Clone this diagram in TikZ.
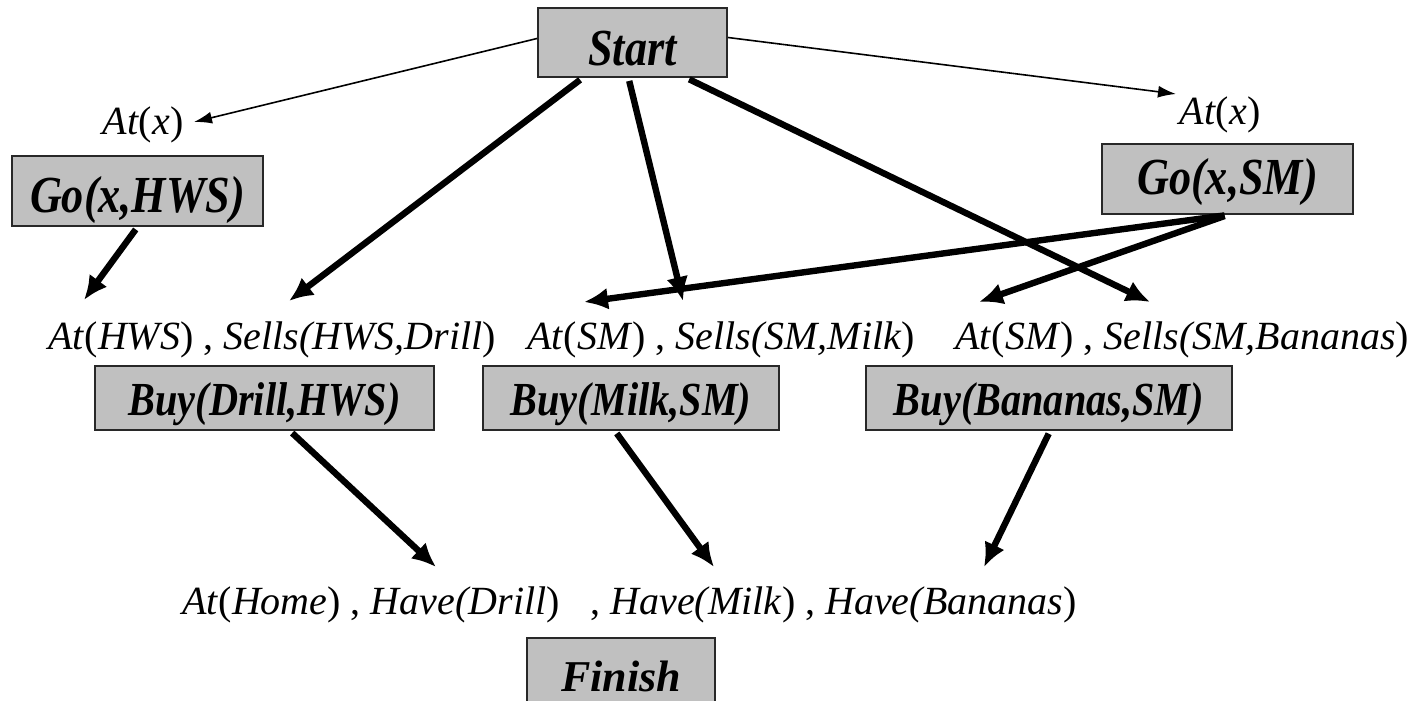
\documentclass[tikz,border=0pt]{standalone}
\usepackage{fontspec}
\setmainfont{Liberation Serif}
\newfontfamily\narrowserif{Liberation Serif}[FakeStretch=0.85]
\usetikzlibrary{arrows.meta,calc}
\definecolor{boxgray}{RGB}{192,192,192}
\definecolor{boxline}{RGB}{40,40,40}

\begin{document}
\begin{tikzpicture}[x=0.5pt,y=-0.5pt,
  act/.style={draw=boxline, line width=1pt, fill=boxgray, inner sep=0pt, text depth=0pt,
              font=\narrowserif\fontsize{26}{30}\selectfont\bfseries\itshape},
  buy/.style={act, font=\narrowserif\fontsize{23.7}{28}\selectfont\bfseries\itshape},
  goalbox/.style={act, font=\fontsize{22}{26}\selectfont\bfseries\itshape},
  cond/.style={inner sep=0pt, font=\fontsize{20}{24}\selectfont},
  link/.style={line width=0.8pt, -{Latex[length=9pt,width=6pt]}},
  order/.style={line width=3.2pt, -{Latex[length=12pt,width=11pt]}, shorten <=1.5pt}]
\useasboundingbox (0,0) rectangle (1414,701);

% operator boxes
\node[act, minimum width=94.5pt, minimum height=34.5pt, text height=23.5pt] (start) at (632.5,42.5) {Start};
\node[act, minimum width=125.5pt, minimum height=35pt, text height=22pt] (gohws) at (137.5,191) {Go(x,HWS)};
\node[act, minimum width=125.5pt, minimum height=35pt, text height=15pt] (gosm) at (1227.5,179) {Go(x,SM)};
\node[buy, minimum width=169.5pt, minimum height=32pt, text height=17pt] (buydrill) at (264.5,398) {Buy(Drill,HWS)};
\node[buy, minimum width=148pt, minimum height=32pt, text height=17pt] (buymilk) at (631,398) {Buy(Milk,SM)};
\node[buy, minimum width=183pt, minimum height=32pt, text height=17pt] (buyban) at (1049,398) {Buy(Bananas,SM)};
\node[goalbox, minimum width=94pt, minimum height=40pt, text height=13pt] (finish) at (621,678) {Finish};

% preconditions and goals
\node[cond] (atxl) at (143,125) {\textit{At}(\textit{x})};
\node[cond] (atxr) at (1220,115) {\textit{At}(\textit{x})};
\node[cond, anchor=base west] (pre1) at (48,349) {\textit{At}(\textit{HWS}) , \textit{Sells(HWS,Drill})};
\node[cond, anchor=base west] (pre2) at (527,349) {\textit{At}(\textit{SM}) , \textit{Sells(SM,Milk})};
\node[cond, anchor=base west] (pre3) at (955,349) {\textit{At}(\textit{SM}) , \textit{Sells(SM,Bananas})};
\node[cond, anchor=base west] (goal1) at (182,614) {\textit{At}(\textit{Home}) , \textit{Have(Drill})};
\node[cond, anchor=base west] (goal2) at (590,614) {, \textit{Have(Milk}) , \textit{Have(Bananas})};

% arrow ends
\coordinate (tAtL) at (194,122);
\coordinate (tAtR) at (1176,94);
\coordinate (tAtHWS) at (84,300);
\coordinate (tSellsHWS) at (289,301);
\coordinate (tSellsMilk) at (683,301);
\coordinate (tAtSM1) at (584,302);
\coordinate (tAtSM2) at (979,302);
\coordinate (tSellsBan) at (1150,302);
\coordinate (tDrill) at (436,567);
\coordinate (tMilk) at (714,567);
\coordinate (tBan) at (984,567);

% causal links
\draw[link] ($(start.west)+(0,-4)$) -- (tAtL);
\draw[link] ($(start.east)+(0,-5)$) -- (tAtR);
\draw[order] (gohws.south) -- (tAtHWS);
\draw[order] ($(start.south)+(-50,0)$) -- (tSellsHWS);
\draw[order] ($(start.south)+(-4,0)$) -- (tSellsMilk);
\draw[order] ($(start.south)+(54,0)$) -- (tSellsBan);
\draw[order] (gosm.south) -- (tAtSM1);
\draw[order] (gosm.south) -- (tAtSM2);
\draw[order] ($(buydrill.south)+(25.5,0)$) -- (tDrill);
\draw[order] ($(buymilk.south)+(-16,0)$) -- (tMilk);
\draw[order] ($(buyban.south)+(1,0)$) -- (tBan);
\end{tikzpicture}
\end{document}
